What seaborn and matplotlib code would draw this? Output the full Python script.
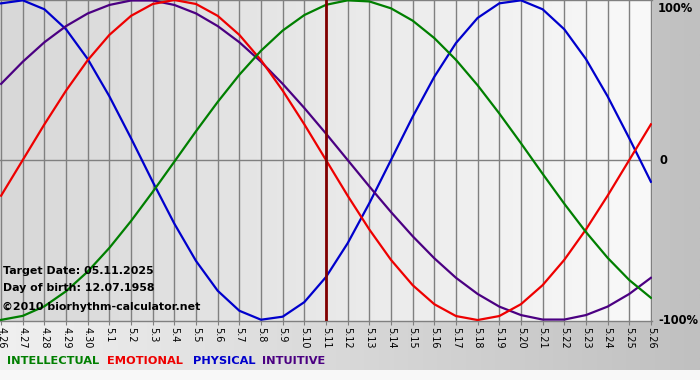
import numpy as np
import pandas as pd
import matplotlib
matplotlib.use("Agg")
import matplotlib.pyplot as plt
from matplotlib.colors import LinearSegmentedColormap
import seaborn as sns

# ---- data (values in fraction of 100%) ----
days = list(range(31))
day_labels = ["4.26", "4.27", "4.28", "4.29", "4.30"] + [f"5.{i}" for i in range(1, 27)]

physical = [0.979, 0.998, 0.942, 0.817, 0.631, 0.398, 0.136, -0.136, -0.398, -0.631,
            -0.817, -0.942, -0.998, -0.979, -0.888, -0.731, -0.520, -0.270, 0.000, 0.270,
            0.520, 0.731, 0.888, 0.979, 0.998, 0.942, 0.817, 0.631, 0.398, 0.136, -0.136]
emotional = [-0.223, 0.000, 0.223, 0.434, 0.624, 0.782, 0.901, 0.975, 1.000, 0.975,
             0.901, 0.782, 0.624, 0.434, 0.223, 0.000, -0.223, -0.434, -0.624, -0.782,
             -0.901, -0.975, -1.000, -0.975, -0.901, -0.782, -0.624, -0.434, -0.223, 0.000, 0.223]
intellectual = [-0.999, -0.974, -0.914, -0.820, -0.697, -0.549, -0.381, -0.199, -0.010, 0.180,
                0.363, 0.533, 0.683, 0.809, 0.906, 0.970, 0.998, 0.991, 0.948, 0.871,
                0.762, 0.626, 0.467, 0.291, 0.105, -0.086, -0.273, -0.450, -0.611, -0.750, -0.861]
intuitive = [0.476, 0.614, 0.736, 0.837, 0.916, 0.969, 0.997, 0.997, 0.969, 0.916,
             0.837, 0.736, 0.614, 0.476, 0.325, 0.165, 0.000, -0.165, -0.325, -0.476,
             -0.614, -0.736, -0.837, -0.916, -0.969, -0.997, -0.997, -0.969, -0.916, -0.837, -0.736]

target_day = 15  # 5.11
series_names = ["INTELLECTUAL", "EMOTIONAL", "PHYSICAL", "INTUITIVE"]
colors = {"INTELLECTUAL": "#007f00", "EMOTIONAL": "#ee0000",
          "PHYSICAL": "#0000cc", "INTUITIVE": "#4b0082"}

df = pd.concat([
    pd.DataFrame({"day": days, "value": physical, "series": "PHYSICAL"}),
    pd.DataFrame({"day": days, "value": intuitive, "series": "INTUITIVE"}),
    pd.DataFrame({"day": days, "value": emotional, "series": "EMOTIONAL"}),
    pd.DataFrame({"day": days, "value": intellectual, "series": "INTELLECTUAL"}),
], ignore_index=True)

W, H = 700, 380
fig = plt.figure(figsize=(7, 3.8), dpi=100, facecolor="#f8f8f8")

# outer background gradient
bg = fig.add_axes([0, 0, 1, 1], zorder=-5)
bg.axis("off")
grad = np.linspace(0, 1, 256)[None, :]
outer_cmap = LinearSegmentedColormap.from_list("outer", ["#f0f0f0", "#c0c0c0"])
bg.imshow(grad, extent=[0, 1, 10 / H, 1], cmap=outer_cmap, aspect="auto")
bg.set_xlim(0, 1)
bg.set_ylim(0, 1)

# plot area
ax = fig.add_axes([0, 59 / H, 652 / W, 321 / H], zorder=1)
ax.set_facecolor("none")
xmin, xmax, ymin, ymax = -0.05, 30.05, -1.006, 1.0
plot_cmap = LinearSegmentedColormap.from_list("plot", ["#d8d8d8", "#f9f9f9"])
ax.imshow(grad, extent=[xmin, xmax, ymin, ymax], cmap=plot_cmap, aspect="auto", zorder=0)

sns.lineplot(data=df, x="day", y="value", hue="series", palette=colors,
             estimator=None, sort=False, legend=False, linewidth=1.6, ax=ax, zorder=3)

ax.axvline(target_day, color="#800000", lw=2, zorder=4)
ax.axhline(0, color="#808080", lw=1, zorder=1)

ax.set_xlim(xmin, xmax)
ax.set_ylim(ymin, ymax)
ax.set_xticks(days)
ax.set_xticklabels(day_labels, rotation=270, fontsize=7, va="top", ha="center")
ax.set_yticks([])
ax.set_xlabel("")
ax.set_ylabel("")
ax.grid(axis="x", color="#808080", lw=1)
ax.set_axisbelow(True)
for gl in ax.get_xgridlines():
    gl.set_zorder(1)
ax.tick_params(axis="x", length=3, color="#808080", pad=1.5)
for s in ["left", "right"]:
    ax.spines[s].set_visible(False)
for s in ["top", "bottom"]:
    ax.spines[s].set_color("#808080")
    ax.spines[s].set_linewidth(1)

# in-plot info text
info_kw = dict(fontsize=7.9, fontweight="bold", color="black", va="center", ha="left")
fig.text(3 / W, 1 - 271 / H, "Target Date: 05.11.2025", **info_kw)
fig.text(3 / W, 1 - 288 / H, "Day of birth: 12.07.1958", **info_kw)
fig.text(2 / W, 1 - 307 / H, "\u00a92010 biorhythm-calculator.net", **info_kw)

# right-hand scale labels
sc_kw = dict(fontsize=8.3, fontweight="bold", color="black", va="center", ha="left")
fig.text(658 / W, 1 - 8 / H, "100%", **sc_kw)
fig.text(660 / W, 1 - 161 / H, "0", **sc_kw)
fig.text(658 / W, 1 - 321 / H, "-100%", **sc_kw)

# legend-like labels
leg_x = [7, 107, 193, 262]
for name, lx in zip(series_names, leg_x):
    fig.text(lx / W, 1 - 361 / H, name, color=colors[name], fontsize=8.2,
             fontweight="bold", va="center", ha="left")

fig.savefig("out.png", dpi=100, facecolor=fig.get_facecolor())
